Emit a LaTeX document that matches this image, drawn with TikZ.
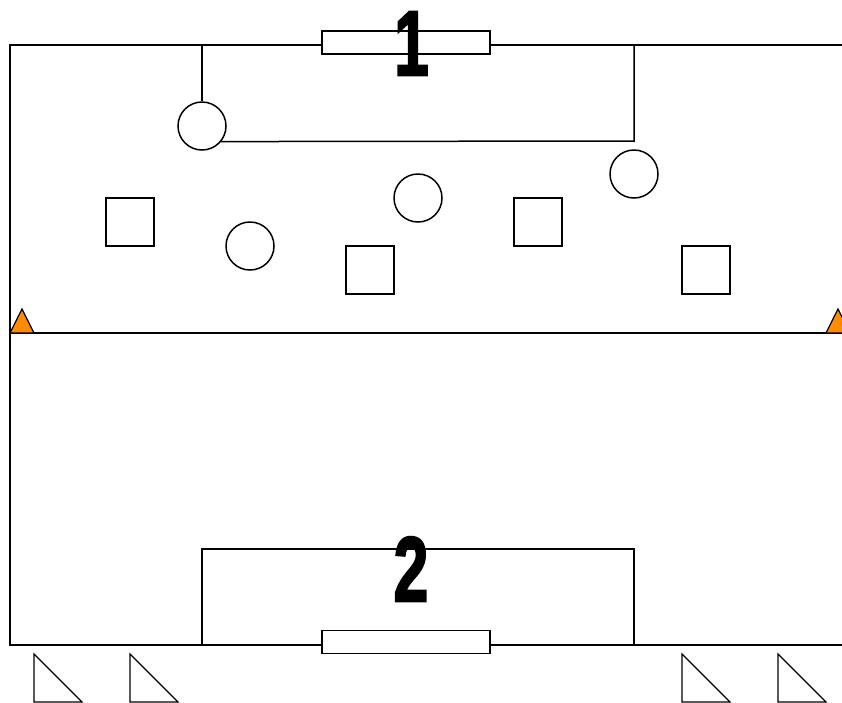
\documentclass[tikz,border=0pt]{standalone}
\usepackage{fontspec}
\newfontfamily\numfont[FakeBold=2.5]{Liberation Sans}
\usetikzlibrary{calc}
\begin{document}
\begin{tikzpicture}[x=1pt,y=-1pt,line width=1.5pt,
  player/.style={circle,draw,fill=white,minimum size=48pt,inner sep=0pt},
  opp/.style={rectangle,draw,fill=white,minimum size=48pt,inner sep=0pt},
  goal/.style={rectangle,draw,fill=white,minimum width=168pt,minimum height=23pt,inner sep=0pt},
  num/.style={font=\numfont\bfseries\fontsize{92}{92}\selectfont,inner sep=0pt,xscale=0.68},
  cone/.style={draw,fill=orange!90!yellow,line width=1.2pt},
  flag/.style={draw,line width=1.2pt}]
\clip (0,0) rectangle (842,702);
\useasboundingbox (0,0) rectangle (842,702);
% field
\coordinate (tl) at (10,45);
\coordinate (tr) at (850,45);
\coordinate (bl) at (10,645);
\coordinate (br) at (850,645);
\coordinate (ml) at (10,333);
\coordinate (mr) at (850,333);
\draw (tr) -- (tl) -- (bl) -- (br);
\draw (ml) -- (mr);
% top area lines
\node[player] (c1) at (202,126) {};
\coordinate (t1) at (202,45);
\coordinate (t2) at (634,45);
\coordinate (k1) at (634,141);
\draw (t1) -- (c1.north);
\draw (c1.-39) -- (k1) -- (t2);
% bottom box
\coordinate (b1) at (202,645);
\coordinate (b2) at (202,549);
\coordinate (b3) at (634,549);
\coordinate (b4) at (634,645);
\draw (b1) -- (b2) -- (b3) -- (b4);
% goals
\node[goal] (g1) at (406,42.5) {};
\node[goal] (g2) at (406,642) {};
% numbers
\node[num] (n1) at (411.5,43.5) {1};
\node[num] (n2) at (411,569) {2};
% players
\node[player] (c2) at (418,198) {};
\node[player] (c3) at (634,174) {};
\node[player] (c4) at (250,246) {};
\node[opp] (s1) at (130,222) {};
\node[opp] (s2) at (370,270) {};
\node[opp] (s3) at (538,222) {};
\node[opp] (s4) at (706,270) {};
% cones
\draw[cone] (10,333) -- (22,309) -- (34,333) -- cycle;
\draw[cone] (826,333) -- (838,309) -- (850,333) -- cycle;
% flags
\foreach \x in {34,130,682,778}{
  \draw[flag] (\x,654) -- (\x,702) -- (\x+48,702) -- cycle;
}
\end{tikzpicture}
\end{document}
